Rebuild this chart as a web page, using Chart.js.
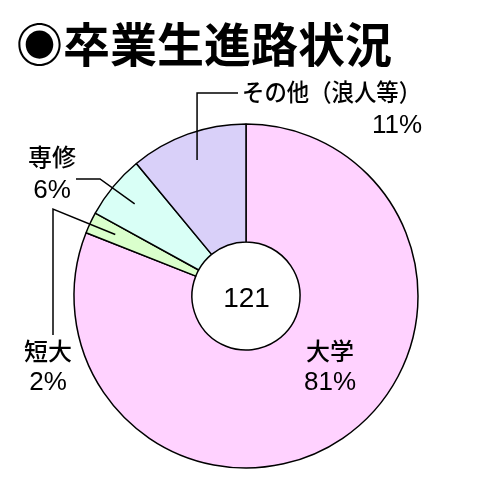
<!DOCTYPE html>
<html>
<head>
<meta charset="utf-8">
<script src="https://cdn.jsdelivr.net/npm/chart.js@4/dist/chart.umd.min.js"></script>
<style>
  body { margin: 0; background: #fff; }
  #chart { display: block; }
</style>
</head>
<body>
<canvas id="chart" width="490" height="500"></canvas>
<script>
// data
const titleText = '◉卒業生進路状況';
const categories = ['大学', '短大', '専修', 'その他（浪人等）'];
const percents = [81, 2, 6, 11];
const totalStudents = 121;
const sliceColors = ['#FFD2FF', '#DAFFCC', '#D9FFF6', '#D9D0F9'];

// where each label + leader line sits (layout only)
const labelLayout = [
    { x: 330, y1: 360, y2: 390, align: 'center', leader: null },
    { x: 48, y1: 360, y2: 390, align: 'center', leader: [[53, 335], [53, 209]] },
    { x: 52, y1: 166, y2: 198, align: 'center', leader: [[76, 179], [100, 179]] },
    { x: 242, y1: 101, y2: 133, align: 'left', pctX: 422, leader: 'elbow' }
];

const cjkFont = '"Noto Sans CJK JP", sans-serif';
const numFont = '"Liberation Sans", Arial, sans-serif';

const labelPlugin = {
    id: 'labelPlugin',
    afterDraw(chart) {
        const ctx = chart.ctx;
        const arcs = chart.getDatasetMeta(0).data;
        ctx.save();
        ctx.fillStyle = '#000';
        ctx.strokeStyle = '#000';
        ctx.lineWidth = 1.5;

        // title
        ctx.font = 'bold 47px ' + cjkFont;
        ctx.textAlign = 'left';
        ctx.textBaseline = 'alphabetic';
        ctx.fillText(titleText, 16, 62);

        // center count
        const c = arcs[0];
        ctx.font = '28px ' + numFont;
        ctx.textAlign = 'center';
        ctx.fillText(String(totalStudents), c.x + 0.5, c.y + 11);

        arcs.forEach((arc, i) => {
            const lay = labelLayout[i];
            const mid = (arc.startAngle + arc.endAngle) / 2;
            const r = arc.outerRadius * 0.84;
            const ex = arc.x + Math.cos(mid) * r;
            const ey = arc.y + Math.sin(mid) * r;

            if (lay.leader === 'elbow') {
                ctx.beginPath();
                ctx.moveTo(238, 93);
                ctx.lineTo(ex, 93);
                ctx.lineTo(ex, ey);
                ctx.stroke();
            } else if (lay.leader) {
                ctx.beginPath();
                ctx.moveTo(lay.leader[0][0], lay.leader[0][1]);
                ctx.lineTo(lay.leader[1][0], lay.leader[1][1]);
                ctx.lineTo(ex, ey);
                ctx.stroke();
            }

            ctx.font = '500 24px ' + cjkFont;
            ctx.textAlign = lay.align;
            if (lay.align === 'left') {
                ctx.fillText(categories[i], lay.x, lay.y1, 179);
            } else {
                ctx.fillText(categories[i], lay.x, lay.y1);
            }
            ctx.font = '26px ' + numFont;
            if (lay.pctX) {
                ctx.textAlign = 'right';
                ctx.fillText(percents[i] + '%', lay.pctX, lay.y2);
            } else {
                ctx.textAlign = 'center';
                ctx.fillText(percents[i] + '%', lay.x, lay.y2);
            }
        });
        ctx.restore();
    }
};

new Chart(document.getElementById('chart'), {
    type: 'doughnut',
    data: {
        labels: categories,
        datasets: [{
            data: percents,
            backgroundColor: sliceColors,
            borderColor: '#000',
            borderWidth: 1.5,
            hoverOffset: 0
        }]
    },
    options: {
        responsive: false,
        animation: false,
        radius: 172,
        cutout: '31.4%',
        layout: { padding: { left: 2, right: 0, top: 92, bottom: 0 } },
        plugins: {
            legend: { display: false },
            tooltip: { enabled: false }
        }
    },
    plugins: [labelPlugin]
});
</script>
</body>
</html>
